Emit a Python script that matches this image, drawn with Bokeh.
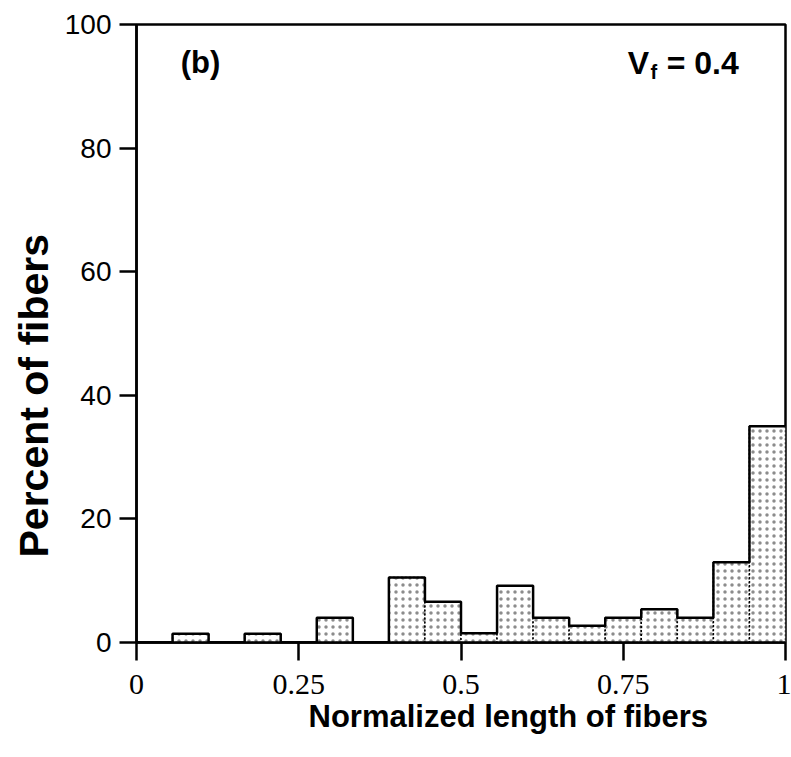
from bokeh.plotting import figure
from bokeh.models import FixedTicker, Label, Range1d, Title
from bokeh.embed import file_html
from bokeh.resources import INLINE

# ---- data ----
n_bins = 18
bin_lo = [i / n_bins for i in range(n_bins)]
bin_hi = [(i + 1) / n_bins for i in range(n_bins)]
percent = [0, 1.4, 0, 1.4, 0, 4.0, 0, 10.5, 6.6, 1.5, 9.2, 4.0, 2.7, 4.0, 5.4, 4.0, 13.0, 35.0]
x_ticks = [0, 0.25, 0.5, 0.75, 1]
x_tick_labels = ["0", "0.25", "0.5", "0.75", "1"]
y_ticks = [0, 20, 40, 60, 80, 100]
x_title = "Normalized length of fibers"
y_title = "Percent of fibers"

p = figure(width=791, height=757, output_backend="svg", toolbar_location=None,
           x_range=Range1d(0, 1), y_range=Range1d(0, 100),
           min_border_left=136, min_border_right=6, min_border_top=24, min_border_bottom=115)
p.background_fill_color = "white"
p.border_fill_color = "white"
p.outline_line_color = "black"
p.outline_line_width = 2.5
p.xgrid.visible = False
p.ygrid.visible = False

# bars (stippled fill)
p.quad(left=bin_lo, right=bin_hi, bottom=0, top=percent,
       fill_color="white", hatch_pattern=".", hatch_color="black", hatch_alpha=0.45,
       hatch_scale=7, hatch_weight=1.1,
       line_color="black", line_width=1.5, line_dash="2 2")
# silhouette
step_x = bin_lo + [1.0]
step_y = percent + [percent[-1]]
p.step(x=step_x, y=step_y, mode="after", line_color="black", line_width=2.5)

# axes
xa = p.xaxis[0]
xa.ticker = FixedTicker(ticks=x_ticks)
xa.major_label_overrides = {t: s for t, s in zip(x_ticks, x_tick_labels)}
xa.major_tick_out = 18
xa.major_tick_in = 0
xa.major_tick_line_width = 2.5
xa.minor_tick_line_color = None
xa.axis_line_width = 2.5
xa.major_label_text_font = "Liberation Serif"
xa.major_label_text_font_size = "30px"
xa.major_label_text_color = "black"
xa.major_label_standoff = 14

ya = p.yaxis[0]
ya.ticker = FixedTicker(ticks=y_ticks)
ya.major_tick_out = 17
ya.major_tick_in = 0
ya.major_tick_line_width = 2.5
ya.minor_tick_line_color = None
ya.axis_line_width = 2.5
ya.major_label_text_font = "Liberation Sans"
ya.major_label_text_font_size = "28px"
ya.major_label_text_color = "black"
ya.major_label_standoff = 8

# axis titles (as side titles, so they can be offset like the original)
tstyle = dict(text_font="Liberation Sans", text_font_style="bold", text_color="black")
p.add_layout(Title(text=x_title, text_font_size="31px", align="left", offset=172,
                   standoff=0, **tstyle), "below")
p.add_layout(Title(text=y_title, text_font_size="41px", align="left", offset=85,
                   standoff=10, **tstyle), "left")

# annotations
common = dict(text_font="Liberation Sans", text_font_style="bold", text_color="black")
p.add_layout(Label(x=0.068, y=93.8, text="(b)", text_font_size="31px",
                   text_baseline="middle", **common))
p.add_layout(Label(x=0.757, y=93.8, text="V", text_font_size="32px",
                   text_baseline="alphabetic", **common))
p.add_layout(Label(x=0.792, y=92.3, text="f", text_font_size="20px",
                   text_baseline="alphabetic", **common))
p.add_layout(Label(x=0.817, y=93.8, text="= 0.4", text_font_size="32px",
                   text_baseline="alphabetic", **common))

open("out.html", "w").write(file_html(p, INLINE))
